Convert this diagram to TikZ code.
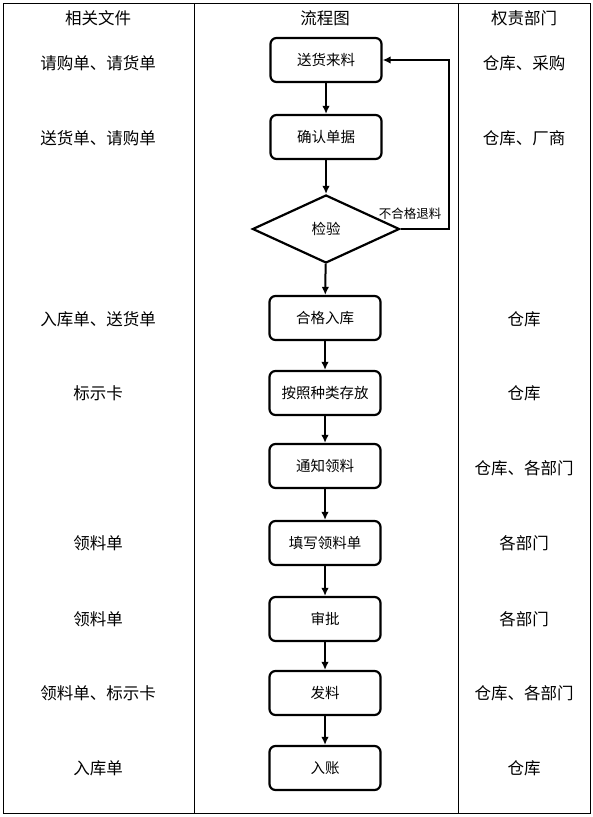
\documentclass[tikz,border=0pt]{standalone}
\usepackage{fontspec}
\setmainfont{Noto Sans CJK SC}
\usetikzlibrary{shapes.geometric,arrows.meta}
\begin{document}
\begin{tikzpicture}[
  x=1pt, y=-1pt,
  proc/.style={rectangle, rounded corners=6pt, draw=black, line width=2.2pt, minimum width=111pt, minimum height=44pt, inner sep=2pt, font=\fontsize{14.5}{16}\selectfont},
  check/.style={diamond, draw=black, line width=2.2pt, aspect=2.16, minimum width=147pt, minimum height=68pt, inner sep=0pt, font=\fontsize{14.5}{16}\selectfont},
  flow/.style={line width=2pt, draw=black, -{Latex[length=8pt,width=7.5pt]}},
  cell/.style={font=\fontsize{16.5}{18}\selectfont},
  lbl/.style={font=\fontsize{12.5}{14}\selectfont, inner sep=1pt}
]
  \useasboundingbox (0,0) rectangle (593,817);

  % --- Tabla ---
  \draw[line width=1pt] (3,3) rectangle (590,813);
  \draw[line width=1pt] (194,3) -- (194,813);
  \draw[line width=1pt] (458,3) -- (458,813);

  \node[cell] (h1) at (98,18) {相关文件};
  \node[cell] (h2) at (325,18) {流程图};
  \node[cell] (h3) at (524,18) {权责部门};

  % --- Flujo ---
  \node[proc] (p1) at (326,60) {送货来料};
  \node[proc] (p2) at (326,137) {确认单据};
  \node[check] (chk) at (326,229) {检验};
  \node[proc] (p3) at (325,318) {合格入库};
  \node[proc] (p4) at (325,393) {按照种类存放};
  \node[proc] (p5) at (325,466) {通知领料};
  \node[proc] (p6) at (325,543) {填写领料单};
  \node[proc] (p7) at (325,619) {审批};
  \node[proc] (p8) at (325,693) {发料};
  \node[proc] (p9) at (325,768) {入账};

  \draw[flow] (p1) -- (p2);
  \draw[flow] (p2) -- (chk);
  \draw[flow] (chk) -- (p3);
  \foreach \a/\b in {p3/p4, p4/p5, p5/p6, p6/p7, p7/p8, p8/p9}
    \draw[flow] (\a) -- (\b);

  % --- Retorno ---
  \coordinate (fb) at (449,229);
  \draw[flow, rounded corners=0pt] (chk.east) -- (fb) |- (p1.east);
  \node[lbl] (fbl) at (410,214) {不合格退料};

  % --- Columnas ---
  \foreach \t/\y [count=\i] in {请购单、请货单/63, 送货单、请购单/138, 入库单、送货单/319, 标示卡/393, 领料单/543, 领料单/619, 领料单、标示卡/693, 入库单/768}
    \node[cell] (d\i) at (98,\y) {\t};
  \foreach \t/\y [count=\i] in {仓库、采购/63, 仓库、厂商/138, 仓库/319, 仓库/393, 仓库、各部门/468, 各部门/543, 各部门/619, 仓库、各部门/693, 仓库/768}
    \node[cell] (r\i) at (524,\y) {\t};

\end{tikzpicture}
\end{document}
